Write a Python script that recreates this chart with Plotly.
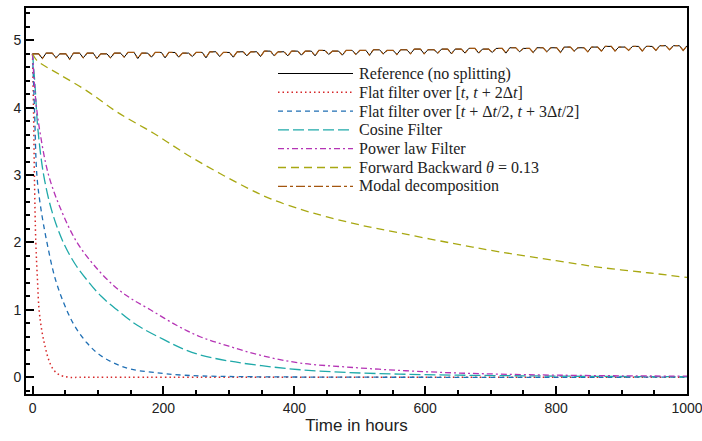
import numpy as np
import plotly.graph_objects as go

# reference run (no splitting): daily maxima and minima of the signal
ref_tops = [4.80, 4.81, 4.80, 4.81, 4.81, 4.80, 4.81, 4.82, 4.81, 4.82, 4.82, 4.81, 4.82,
            4.83, 4.82, 4.83, 4.83, 4.84, 4.83, 4.84, 4.84, 4.85, 4.84, 4.85, 4.85, 4.86,
            4.85, 4.86, 4.87, 4.86, 4.87, 4.87, 4.88, 4.87, 4.88, 4.89, 4.88, 4.89, 4.89,
            4.90, 4.89, 4.90, 4.91, 4.90, 4.91, 4.91, 4.92, 4.92]
ref_dips = [4.73, 4.74, 4.72, 4.74, 4.73, 4.74, 4.75, 4.73, 4.75, 4.74, 4.75, 4.76, 4.74,
            4.76, 4.75, 4.77, 4.76, 4.77, 4.77, 4.78, 4.77, 4.79, 4.78, 4.79, 4.78, 4.80,
            4.79, 4.80, 4.80, 4.81, 4.80, 4.81, 4.81, 4.82, 4.81, 4.83, 4.82, 4.83, 4.82,
            4.84, 4.83, 4.84, 4.84, 4.85, 4.84, 4.85, 4.86, 4.85]

flat1_t = [0, 1.5, 3, 5, 7.5, 10, 14, 19, 25, 32, 40, 55, 80, 1000]
flat1_v = [4.8, 3.97, 2.9, 2.0, 1.45, 1.0, 0.7, 0.46, 0.25, 0.11, 0.04, 0.0, 0.0, 0.0]

flat2_t = [0, 3, 6.6, 12, 22, 35, 52, 65, 83, 100, 124, 150, 185, 230, 300, 1000]
flat2_v = [4.8, 3.97, 3.0, 2.55, 2.0, 1.45, 1.0, 0.75, 0.51, 0.35, 0.21, 0.12, 0.07, 0.03, 0.01, 0.0]

cos_t = [0, 4, 8, 17, 30, 47, 65, 85, 105, 129, 160, 200, 230, 256, 300, 350, 409, 480,
         561, 650, 750, 850, 1000]
cos_v = [4.8, 4.3, 3.7, 3.0, 2.45, 2.0, 1.68, 1.42, 1.2, 1.0, 0.77, 0.56, 0.42, 0.33, 0.24,
         0.17, 0.11, 0.07, 0.045, 0.03, 0.02, 0.012, 0.006]

pow_t = [0, 5, 12, 24.5, 45, 68, 95, 125, 150, 180, 220, 256, 300, 350, 409, 480, 561, 640,
         714, 800, 900, 1000]
pow_v = [4.8, 4.1, 3.6, 3.0, 2.45, 2.0, 1.65, 1.35, 1.17, 1.0, 0.77, 0.6, 0.46, 0.32, 0.21,
         0.15, 0.10, 0.065, 0.045, 0.03, 0.02, 0.015]

fb_t = [0, 5, 12, 40, 83, 130, 185, 240, 287, 330, 363, 410, 450, 500, 561, 640, 714, 800,
        867, 940, 1000]
fb_v = [4.8, 4.72, 4.66, 4.5, 4.25, 3.93, 3.62, 3.28, 3.02, 2.80, 2.65, 2.49, 2.38, 2.26,
        2.14, 1.99, 1.86, 1.73, 1.63, 1.55, 1.48]

names = ['Reference (no splitting)',
         'Flat filter over [<i>t</i>, <i>t</i> + 2Δ<i>t</i>]',
         'Flat filter over [<i>t</i> + Δ<i>t</i>/2, <i>t</i> + 3Δ<i>t</i>/2]',
         'Cosine Filter',
         'Power law Filter',
         'Forward Backward <i>θ</i> = 0.13',
         'Modal decomposition']

# flat top, sharp dip: two top samples then a dip in every period
period = 1000 / len(ref_dips)
ref_t, ref_v = [], []
for i in range(len(ref_dips)):
    ref_t += [i * period, (i + 0.45) * period, (i + 0.72) * period]
    ref_v += [ref_tops[i], ref_tops[i], ref_dips[i]]
ref_t.append(1000)
ref_v.append(ref_tops[-1])

styles = [
    dict(color='black', width=1),
    dict(color='#d62728', width=1.5, dash='1.5px,3px'),
    dict(color='#1f6fb4', width=1.3, dash='5px,4px'),
    dict(color='#1fa9a9', width=1.3, dash='11px,4px'),
    dict(color='#b534b5', width=1.3, dash='6px,3px,2px,3px'),
    dict(color='#a8a812', width=1.3, dash='8px,5px'),
    dict(color='#a3560f', width=1.2, dash='9px,3px,3px,3px'),
]
series = [(ref_t, ref_v), (flat1_t, flat1_v), (flat2_t, flat2_v), (cos_t, cos_v),
          (pow_t, pow_v), (fb_t, fb_v), (ref_t, ref_v)]

fig = go.Figure()
for k, (tx, vy) in enumerate(series):
    shape = 'linear' if k in (0, 6) else 'spline'
    fig.add_trace(go.Scatter(x=tx, y=vy, mode='lines', name=names[k],
                             line=styles[k], line_shape=shape, showlegend=False))

# hand drawn legend (pixel positions inside the frame -> paper coords)
L, R, T, B = 26, 687, 8, 394
def px(x):
    return (x - L) / (R - L)
def py(y):
    return (B - y) / (B - T)

for k in range(len(names)):
    yc = 73.5 + 18.8 * k
    fig.add_shape(type='line', xref='paper', yref='paper',
                  x0=px(278), x1=px(353), y0=py(yc), y1=py(yc), line=styles[k])
    fig.add_annotation(xref='paper', yref='paper', x=px(357), y=py(yc),
                       xanchor='left', yanchor='middle', showarrow=False, text=names[k],
                       font=dict(family='Liberation Serif, DejaVu Serif, serif', size=16,
                                 color='#222'))

fig.update_layout(
    width=702, height=441,
    margin=dict(l=L, r=702 - R, t=T, b=441 - B),
    plot_bgcolor='white', paper_bgcolor='white',
    font=dict(family='Liberation Sans, Arial, sans-serif', size=14, color='#222'),
    showlegend=False,
)
fig.update_xaxes(range=[-10, 1000], tickvals=[0, 200, 400, 600, 800, 1000],
                 ticks='inside', ticklen=8, tickwidth=1.5, tickcolor='black',
                 minor=dict(dtick=50, tick0=0, ticks='inside', ticklen=4, tickcolor='black'),
                 showline=True, linewidth=2, linecolor='black', mirror=True,
                 showgrid=False, zeroline=False, ticklabeloverflow='allow', automargin=False,
                 title=dict(text='Time in hours', font=dict(size=17), standoff=2))
fig.update_yaxes(range=[-0.25, 5.48], tickvals=[0, 1, 2, 3, 4, 5],
                 ticks='inside', ticklen=8, tickwidth=1.5, tickcolor='black',
                 minor=dict(dtick=0.2, tick0=0, ticks='inside', ticklen=4, tickcolor='black'),
                 showline=True, linewidth=2, linecolor='black', mirror=True,
                 showgrid=False, zeroline=False, automargin=False)

# drop the default 8px body margin so the figure sits at the window corner
fig.write_html("out.html", config={'displayModeBar': False},
               post_script="document.body.style.margin='0';document.body.style.overflow='hidden';")
